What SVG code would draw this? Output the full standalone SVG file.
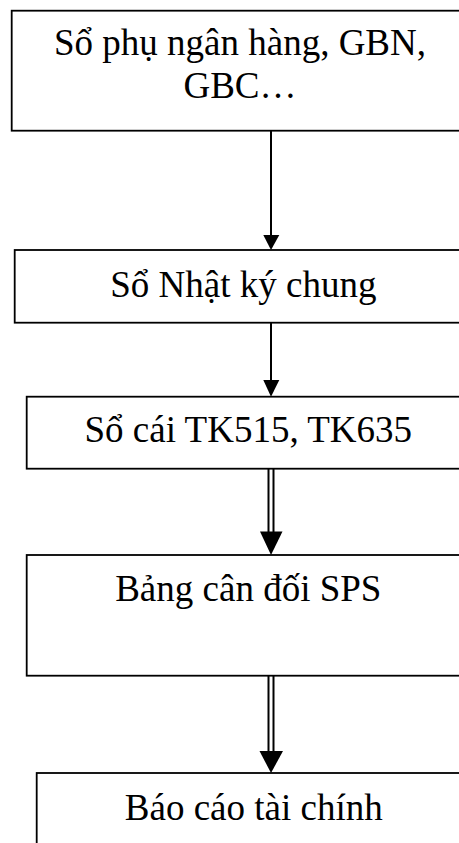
<svg xmlns="http://www.w3.org/2000/svg" width="459" height="843" viewBox="0 0 459 843">
<style>
.box{fill:#fff;stroke:#000;stroke-width:1.8}
.lbl{font-family:"Liberation Serif","Times New Roman",serif;font-size:37px;fill:#000;text-anchor:middle}
.ln{stroke:#000;stroke-width:2;fill:none}
.hd{fill:#000;stroke:none}
</style>
<rect width="459" height="843" fill="#fff"/>
<g id="n1">
<rect class="box" x="11.7" y="10.7" width="520" height="120"/>
<text class="lbl" x="240" y="55">Sổ phụ ngân hàng, GBN,</text>
<text class="lbl" x="240" y="98.3">GBC…</text>
</g>
<g id="n2">
<rect class="box" x="14.7" y="250" width="520" height="72.7"/>
<text class="lbl" x="243.3" y="296.7">Sổ Nhật ký chung</text>
</g>
<g id="n3">
<rect class="box" x="26.7" y="396.7" width="520" height="72"/>
<text class="lbl" x="248.3" y="441.7">Sổ cái TK515, TK635</text>
</g>
<g id="n4">
<rect class="box" x="26.7" y="555" width="520" height="120.7"/>
<text class="lbl" x="248.3" y="600.7">Bảng cân đối SPS</text>
</g>
<g id="n5">
<rect class="box" x="36.7" y="773" width="520" height="120"/>
<text class="lbl" x="253.8" y="820">Báo cáo tài chính</text>
</g>
<g id="connectors">
<line class="ln" x1="271" y1="131" x2="271" y2="236"/>
<polygon class="hd" points="263.3,235 279.3,235 271,250"/>
<line class="ln" x1="271" y1="323" x2="271" y2="381"/>
<polygon class="hd" points="263.3,380 279.3,380 271,396.7"/>
<line class="ln" x1="268.5" y1="469" x2="268.5" y2="533"/>
<line class="ln" x1="273.5" y1="469" x2="273.5" y2="533"/>
<polygon class="hd" points="260,531.5 282.5,531.5 271,555"/>
<line class="ln" x1="268.5" y1="676" x2="268.5" y2="752"/>
<line class="ln" x1="273.5" y1="676" x2="273.5" y2="752"/>
<polygon class="hd" points="259.5,751 283,751 271,773"/>
</g>
</svg>
